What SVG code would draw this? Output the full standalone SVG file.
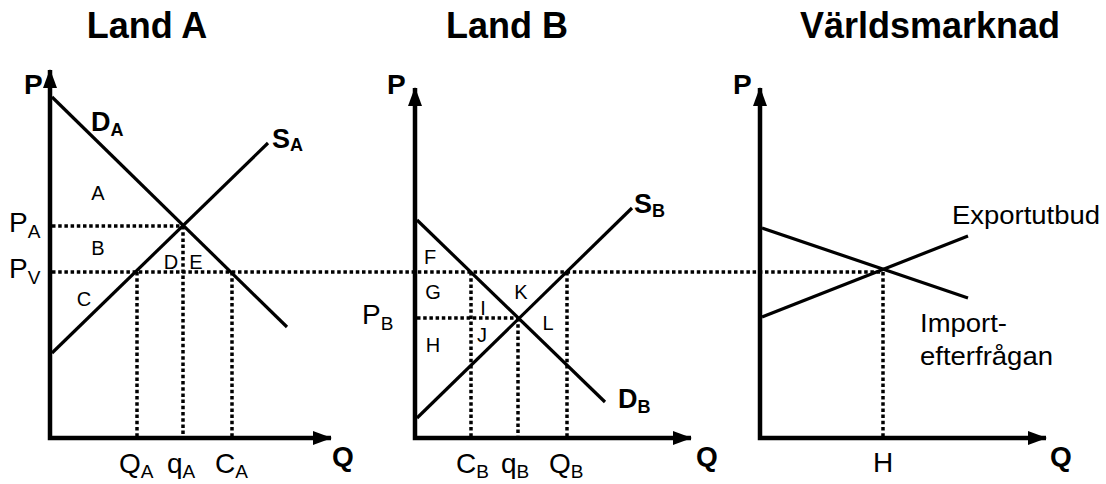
<svg xmlns="http://www.w3.org/2000/svg" width="1106" height="484" viewBox="0 0 1106 484">
<style>
text{font-family:"Liberation Sans",Arial,sans-serif;fill:#000}
.title{font-size:36px;font-weight:bold;text-anchor:middle}
.ax{font-size:28px;font-weight:bold}
.lbl{font-size:28px}
.sub{font-size:19px}
.bl{font-size:27px;font-weight:bold}
.bsub{font-size:18px;font-weight:bold}
.area{font-size:20px;text-anchor:middle}
.txt{font-size:25px}
.axis{fill:none;stroke:#000;stroke-width:4.5}
.curve{fill:none;stroke:#000;stroke-width:3.2}
.dot{fill:none;stroke:#000;stroke-width:3.5;stroke-dasharray:3.5 2.7}
</style>
<defs>
<marker id="arr" markerUnits="userSpaceOnUse" markerWidth="20" markerHeight="16" refX="18" refY="8" orient="auto-start-reverse">
<path d="M0,1 L19,8 L0,15 z" fill="#000"/>
</marker>
</defs>
<rect width="1106" height="484" fill="#fff"/>
<text class="title" x="147" y="38">Land A</text>
<text class="title" x="507" y="38">Land B</text>
<text class="title" x="930" y="38">Världsmarknad</text>

<g id="connectors">
<line class="dot" x1="52" y1="272" x2="883" y2="272"/>
<line class="dot" x1="52" y1="226" x2="183" y2="226"/>
<line class="dot" x1="137" y1="272" x2="137" y2="436"/>
<line class="dot" x1="183" y1="226" x2="183" y2="436"/>
<line class="dot" x1="232" y1="272" x2="232" y2="436"/>
<line class="dot" x1="417" y1="318" x2="518" y2="318"/>
<line class="dot" x1="471" y1="272" x2="471" y2="436"/>
<line class="dot" x1="518" y1="318" x2="518" y2="436"/>
<line class="dot" x1="567" y1="272" x2="567" y2="436"/>
<line class="dot" x1="883" y1="272" x2="883" y2="436"/>
</g>

<g id="landA">
<path class="axis" d="M50,70 L50,438 L331,438" marker-start="url(#arr)" marker-end="url(#arr)"/>
<line class="curve" x1="52" y1="97" x2="287" y2="327"/>
<line class="curve" x1="52" y1="353" x2="268" y2="143"/>
<text class="ax" x="24" y="94">P</text>
<text class="bl" x="91" y="131">D<tspan class="bsub" dy="5">A</tspan></text>
<text class="bl" x="272" y="148">S<tspan class="bsub" dy="3">A</tspan></text>
<text class="lbl" x="9" y="232">P<tspan class="sub" dy="6">A</tspan></text>
<text class="lbl" x="9" y="278">P<tspan class="sub" dy="6">V</tspan></text>
<text class="area" x="98" y="200">A</text>
<text class="area" x="98" y="255">B</text>
<text class="area" x="84" y="306">C</text>
<text class="area" x="171" y="269">D</text>
<text class="area" x="196" y="269">E</text>
<text class="lbl" x="119" y="473">Q<tspan class="sub" dy="5">A</tspan></text>
<text class="lbl" x="167" y="473">q<tspan class="sub" dy="5">A</tspan></text>
<text class="lbl" x="215" y="473">C<tspan class="sub" dy="5">A</tspan></text>
<text class="ax" x="332" y="466">Q</text>
</g>

<g id="landB">
<path class="axis" d="M415,88 L415,438 L691,438" marker-start="url(#arr)" marker-end="url(#arr)"/>
<line class="curve" x1="417" y1="220" x2="605" y2="402"/>
<line class="curve" x1="417" y1="418" x2="632" y2="208"/>
<text class="ax" x="387" y="94">P</text>
<text class="bl" x="634" y="213">S<tspan class="bsub" dy="4">B</tspan></text>
<text class="bl" x="618" y="408">D<tspan class="bsub" dy="5">B</tspan></text>
<text class="lbl" x="362" y="324">P<tspan class="sub" dy="6">B</tspan></text>
<text class="area" x="430" y="264">F</text>
<text class="area" x="433" y="299">G</text>
<text class="area" x="433" y="352">H</text>
<text class="area" x="483" y="315">I</text>
<text class="area" x="482" y="342">J</text>
<text class="area" x="521" y="299">K</text>
<text class="area" x="548" y="330">L</text>
<text class="lbl" x="456" y="473">C<tspan class="sub" dy="5">B</tspan></text>
<text class="lbl" x="501" y="473">q<tspan class="sub" dy="5">B</tspan></text>
<text class="lbl" x="549" y="473">Q<tspan class="sub" dy="5">B</tspan></text>
<text class="ax" x="696" y="466">Q</text>
</g>

<g id="world">
<path class="axis" d="M760,88 L760,438 L1046,438" marker-start="url(#arr)" marker-end="url(#arr)"/>
<line class="curve" x1="762" y1="228" x2="968" y2="298"/>
<line class="curve" x1="762" y1="317" x2="968" y2="236"/>
<text class="ax" x="733" y="94">P</text>
<text class="txt" x="952" y="224" textLength="148" lengthAdjust="spacingAndGlyphs">Exportutbud</text>
<text class="txt" x="920" y="332" textLength="87" lengthAdjust="spacingAndGlyphs">Import-</text>
<text class="txt" x="920" y="365" textLength="133" lengthAdjust="spacingAndGlyphs">efterfrågan</text>
<text class="lbl" x="883" y="472" text-anchor="middle">H</text>
<text class="ax" x="1050" y="466">Q</text>
</g>
</svg>
